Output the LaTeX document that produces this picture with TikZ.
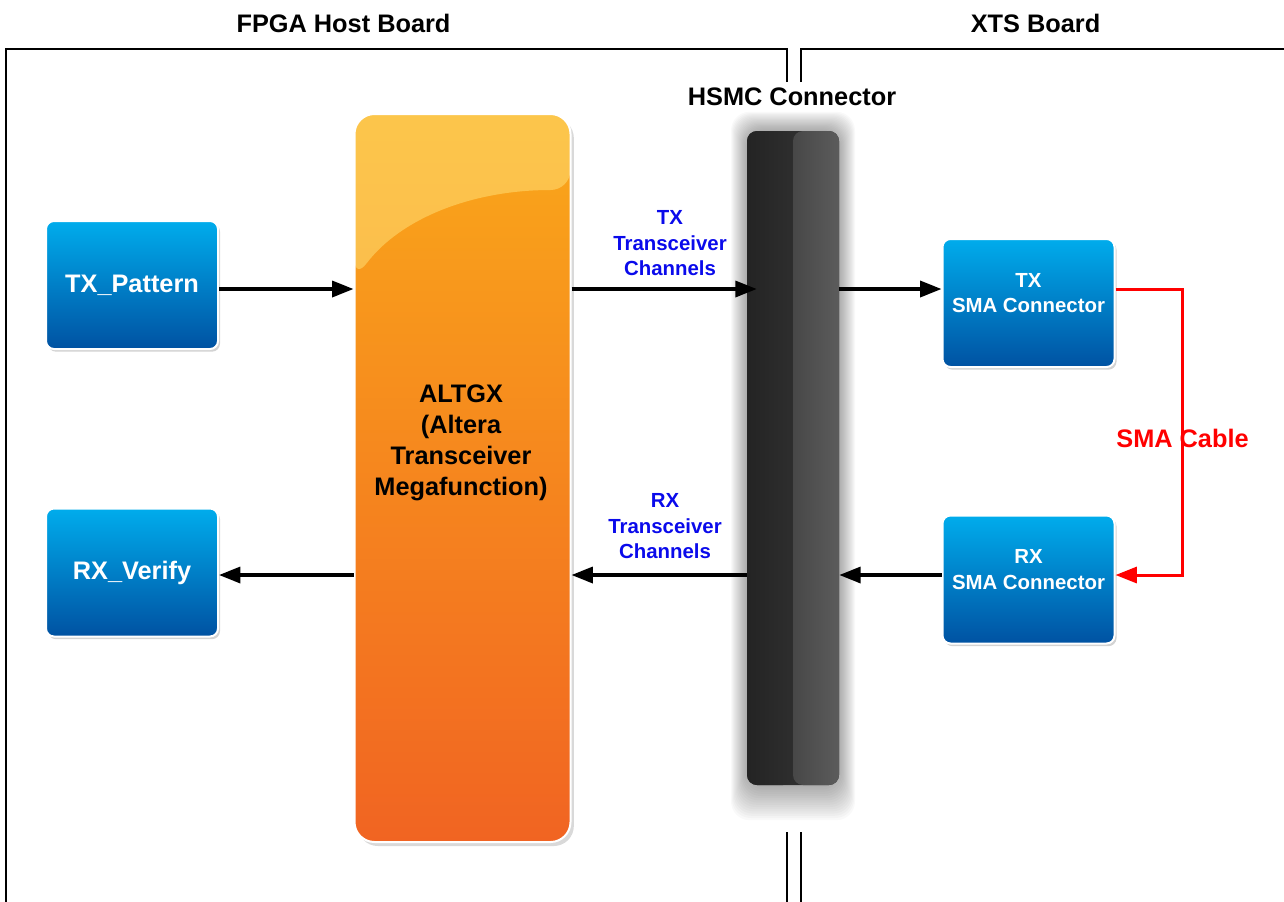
\documentclass[tikz,border=0pt]{standalone}
\usepackage{fontspec}
\setmainfont{Liberation Sans}
\usepackage{xcolor}
\usetikzlibrary{shapes, arrows.meta, shadows}
\definecolor{bluetop}{RGB}{0,172,236}
\definecolor{bluebot}{RGB}{0,82,162}
\definecolor{orangetop}{RGB}{250,168,26}
\definecolor{orangebot}{RGB}{241,100,34}
\definecolor{glosscol}{RGB}{255,228,125}
\definecolor{chanblue}{RGB}{10,10,235}
\definecolor{cablered}{RGB}{255,0,0}
\newcommand{\bigfont}{\fontsize{19}{23.25}\selectfont\bfseries}
\newcommand{\smallfont}{\fontsize{15.3}{19.1}\selectfont\bfseries}
\tikzset{
	board/.style={line width=1.8pt},
	boardtitle/.style={font=\bigfont, inner sep=0pt},
	arr/.style={line width=2.5pt, -{Triangle[length=16pt, width=12pt]}},
	cable/.style={cablered, line width=2.25pt, -{Triangle[length=16pt, width=12pt]}},
	cablelabel/.style={font=\bigfont, text=cablered, inner sep=0pt},
	chanlabel/.style={font=\smallfont, text=chanblue, align=center, inner sep=0pt},
	bluebox/.style={rounded corners=6pt, draw=white, line width=1.5pt, top color=bluetop, bottom color=bluebot, minimum width=129pt, minimum height=96pt, inner sep=0pt, text=white, font=\bigfont, drop shadow={shadow xshift=1.5pt, shadow yshift=-2pt, opacity=0.35}},
	smatext/.style={font=\smallfont, text=white, align=center, inner sep=0pt},
	altgxbox/.style={rounded corners=15pt, draw=white, line width=1.5pt, top color=orangetop, bottom color=orangebot, minimum width=162pt, minimum height=546pt, inner sep=0pt, drop shadow={shadow xshift=2.5pt, shadow yshift=-3pt, opacity=0.3},
		path picture={\fill[glosscol, opacity=0.5] (path picture bounding box.north west) -- (path picture bounding box.north east) -- ([yshift=-57pt]path picture bounding box.north east) .. controls +(-75pt,0pt) and +(34pt,45pt) .. ([yshift=-124pt]path picture bounding box.north west) -- cycle;}},
	altgxtext/.style={font=\bigfont, align=center, inner sep=0pt},
	hsmcbar/.style={rounded corners=7.5pt, fill=black!82, minimum width=69pt, minimum height=490.5pt, inner sep=0pt,
		path picture={\shade[left color=black!86, right color=black!78] (path picture bounding box.south west) rectangle (path picture bounding box.north);
			\shade[left color=black!72, right color=black!64] (path picture bounding box.south) rectangle (path picture bounding box.north east);}}
}

\begin{document}
\begin{tikzpicture}[x=0.75pt, y=-0.75pt]
	\useasboundingbox (0,0) rectangle (1284,901);
	
	\coordinate (txrow) at (0,289);
	\coordinate (rxrow) at (0,575);
	
	\node[boardtitle] (fpgatitle) at (343.5,23) {FPGA Host Board};
	\node[boardtitle] (xtstitle) at (1035.5,23) {XTS Board};
	\node[boardtitle] (hsmctitle) at (792,97) {HSMC Connector};
	
	\draw[board] (787,82) |- (6,49) -- (6,910);
	\draw[board] (801,82) |- (1295,49);
	\draw[board] (787,832) -- (787,910);
	\draw[board] (801,832) -- (801,910);
	
	\foreach \g in {1,...,16}
		\fill[black, opacity=0.022, rounded corners=14pt] (747-\g,131-1.2*\g) rectangle (839+\g,785+2.2*\g);
	\node[hsmcbar] (hsmc) at (793,458) {};
	\coordinate (hsmcin) at ([xshift=7.5pt]hsmc.west);
	
	\node[altgxbox] (altgx) at (462.5,478) {};
	\node[altgxtext] (altgxlbl) at (461,443) {ALTGX\\(Altera\\Transceiver\\Megafunction)};
	
	\node[bluebox] (txpat) at (132,285) {TX\_Pattern};
	\node[bluebox] (rxver) at (132,572.5) {RX\_Verify};
	\node[bluebox] (txsma) at (1028.5,303) {};
	\node[bluebox] (rxsma) at (1028.5,579.5) {};
	\node[smatext] (txsmalbl) at ([yshift=7.5pt]txsma.center) {TX\\SMA Connector};
	\node[smatext] (rxsmalbl) at ([yshift=7.5pt]rxsma.center) {RX\\SMA Connector};
	
	\node[chanlabel] (txchan) at (670,243.5) {TX\\Transceiver\\Channels};
	\node[chanlabel] (rxchan) at (665,526.5) {RX\\Transceiver\\Channels};
	
	\draw[arr] (txpat.east |- txrow) -- (altgx.west |- txrow);
	\draw[arr] (altgx.east |- txrow) -- (hsmcin |- txrow);
	\draw[arr] (hsmc.east |- txrow) -- (txsma.west |- txrow);
	\draw[arr] (rxsma.west |- rxrow) -- (hsmc.east |- rxrow);
	\draw[arr] (hsmc.west |- rxrow) -- (altgx.east |- rxrow);
	\draw[arr] (altgx.west |- rxrow) -- (rxver.east |- rxrow);
	
	\coordinate (cablebend) at (1182.5,438);
	\draw[cable] (txsma.east |- txrow) -| (cablebend) |- (rxsma.east |- rxrow);
	\node[cablelabel] (cablelbl) at (cablebend) {SMA Cable};
\end{tikzpicture}
\end{document}
